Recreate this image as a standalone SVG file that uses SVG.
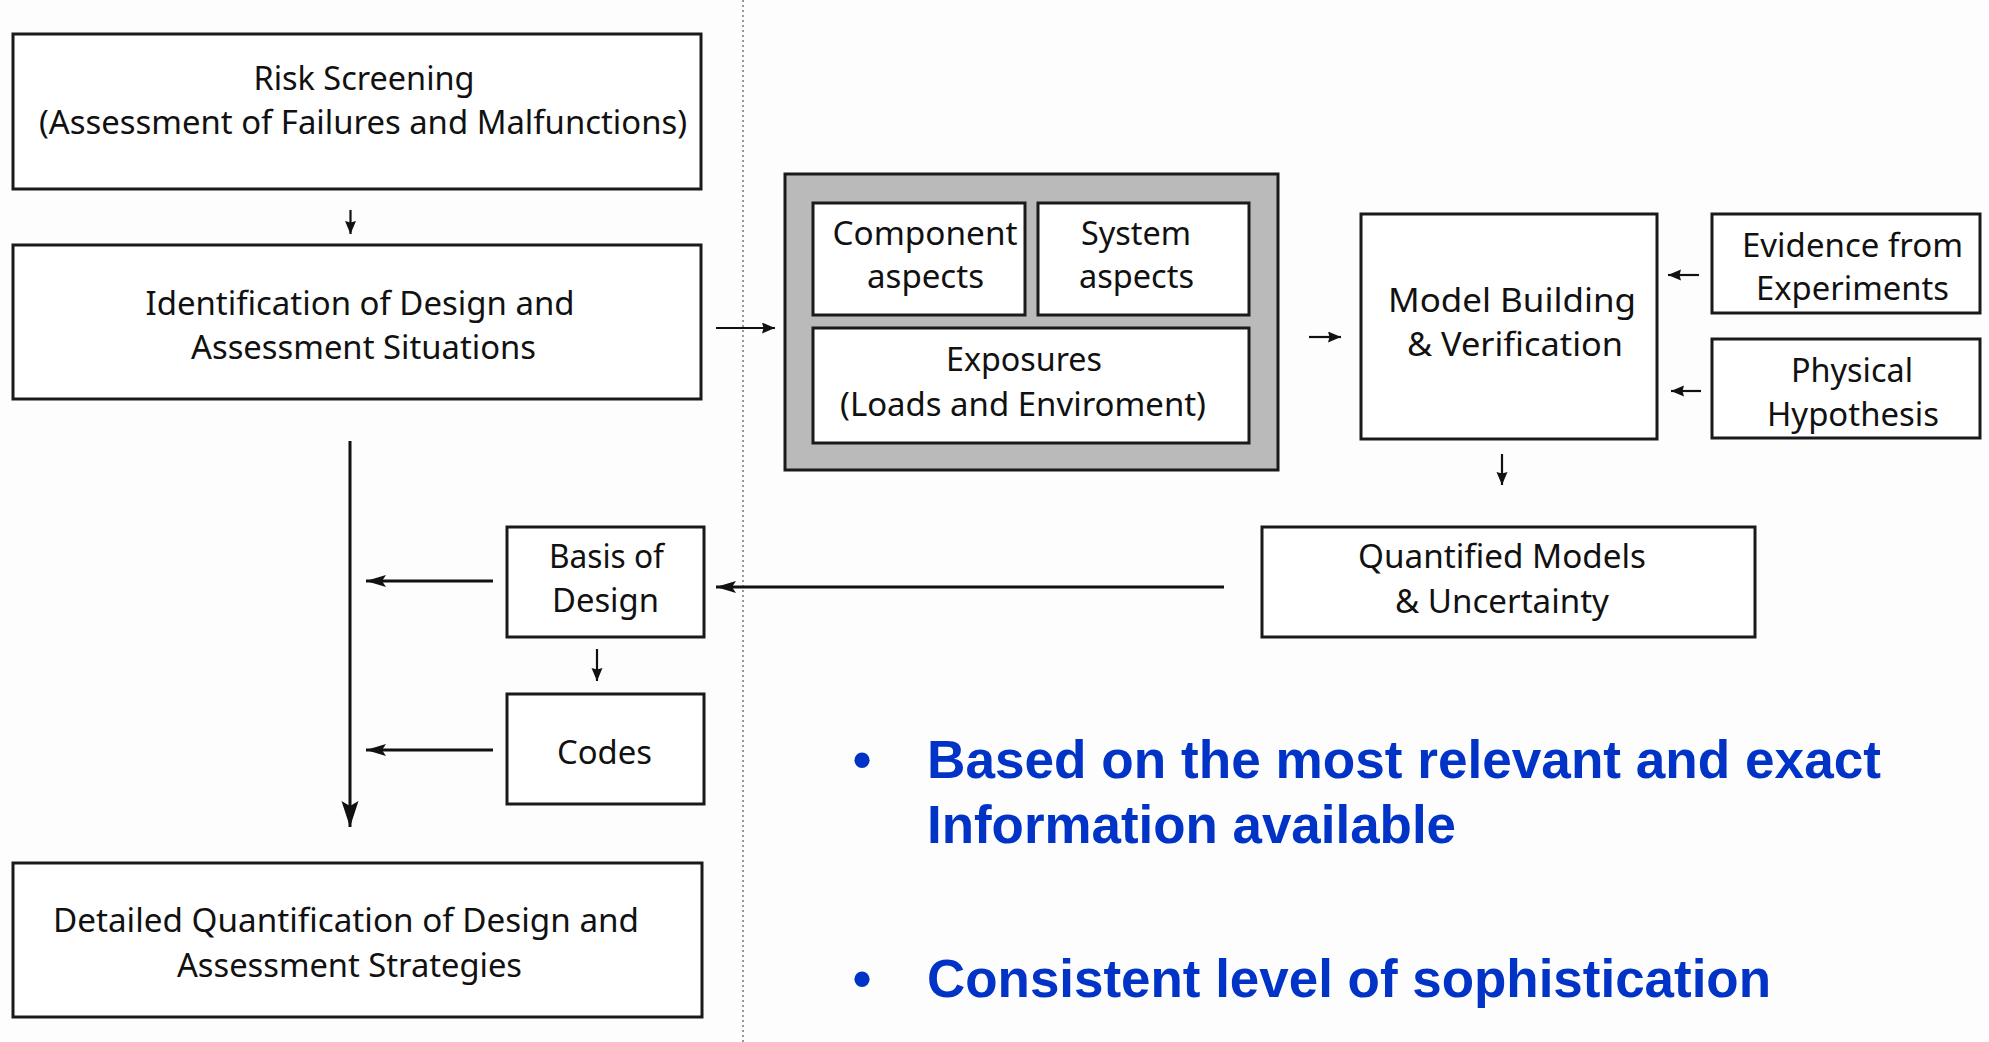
<svg xmlns="http://www.w3.org/2000/svg" width="1989" height="1042" viewBox="0 0 1989 1042">
  <defs>
    <marker id="headS" markerUnits="userSpaceOnUse" markerWidth="16" markerHeight="14" refX="13" refY="5.5" orient="auto">
      <path d="M0,0 L13,5.5 L0,11 L1.5,5.5 Z" fill="#111"/>
    </marker>
    <marker id="headM" markerUnits="userSpaceOnUse" markerWidth="22" markerHeight="14" refX="20" refY="6" orient="auto">
      <path d="M0,0 L20,6 L0,12 L4,6 Z" fill="#111"/>
    </marker>
    <marker id="headL" markerUnits="userSpaceOnUse" markerWidth="28" markerHeight="20" refX="26" refY="8.5" orient="auto">
      <path d="M0,0 L26,8.5 L0,17 L5,8.5 Z" fill="#111"/>
    </marker>
  </defs>
  <style>
    .box { fill: #ffffff; stroke: #1a1a1a; stroke-width: 3; }
    .frame { fill: #bababa; stroke: #1a1a1a; stroke-width: 3; }
    .lbl { font-family: "Noto Sans", "Open Sans", sans-serif; font-size: 33px; fill: #111; text-anchor: middle; }
    .wire { fill: none; stroke: #111; stroke-width: 2.2; }
    .wire3 { fill: none; stroke: #111; stroke-width: 3; }
    .bul { font-family: "Liberation Sans", Arial, sans-serif; font-weight: bold; font-size: 53px; fill: #0033c6; }
  </style>

  <rect x="0" y="0" width="1989" height="1042" fill="#fdfdfd"/>

  <!-- dotted divider -->
  <line x1="743" y1="0" x2="743" y2="1042" stroke="#777" stroke-width="1.5" stroke-dasharray="2 3"/>

  <g id="risk-screening">
    <rect class="box" x="13" y="34" width="688" height="155"/>
    <text class="lbl" x="364" y="90" textLength="221" lengthAdjust="spacingAndGlyphs">Risk Screening</text>
    <text class="lbl" x="363" y="134" textLength="648" lengthAdjust="spacingAndGlyphs">(Assessment of Failures and Malfunctions)</text>
  </g>

  <g id="identification">
    <rect class="box" x="13" y="245" width="688" height="154"/>
    <text class="lbl" x="360" y="315" textLength="429" lengthAdjust="spacingAndGlyphs">Identification of Design and</text>
    <text class="lbl" x="363.5" y="359" textLength="345" lengthAdjust="spacingAndGlyphs">Assessment Situations</text>
  </g>

  <g id="aspects-frame">
    <rect class="frame" x="785" y="174" width="493" height="296"/>
    <g id="component-aspects">
      <rect class="box" x="813" y="203" width="212" height="112"/>
      <text class="lbl" x="925" y="245" textLength="185" lengthAdjust="spacingAndGlyphs">Component</text>
      <text class="lbl" x="925.5" y="288" textLength="117" lengthAdjust="spacingAndGlyphs">aspects</text>
    </g>
    <g id="system-aspects">
      <rect class="box" x="1038" y="203" width="211" height="112"/>
      <text class="lbl" x="1136" y="245" textLength="110" lengthAdjust="spacingAndGlyphs">System</text>
      <text class="lbl" x="1136.5" y="288" textLength="115" lengthAdjust="spacingAndGlyphs">aspects</text>
    </g>
    <g id="exposures">
      <rect class="box" x="813" y="328" width="436" height="115"/>
      <text class="lbl" x="1024" y="371" textLength="156" lengthAdjust="spacingAndGlyphs">Exposures</text>
      <text class="lbl" x="1023" y="416" textLength="366" lengthAdjust="spacingAndGlyphs">(Loads and Enviroment)</text>
    </g>
  </g>

  <g id="model-building">
    <rect class="box" x="1361" y="214" width="296" height="225"/>
    <text class="lbl" x="1512" y="312" textLength="248" lengthAdjust="spacingAndGlyphs">Model Building</text>
    <text class="lbl" x="1515" y="356" textLength="216" lengthAdjust="spacingAndGlyphs">&amp; Verification</text>
  </g>

  <g id="evidence">
    <rect class="box" x="1712" y="214" width="268" height="99"/>
    <text class="lbl" x="1852.5" y="257" textLength="221" lengthAdjust="spacingAndGlyphs">Evidence from</text>
    <text class="lbl" x="1852.5" y="300" textLength="193" lengthAdjust="spacingAndGlyphs">Experiments</text>
  </g>

  <g id="physical-hypothesis">
    <rect class="box" x="1712" y="339" width="268" height="99"/>
    <text class="lbl" x="1852" y="382" textLength="122" lengthAdjust="spacingAndGlyphs">Physical</text>
    <text class="lbl" x="1853" y="426" textLength="172" lengthAdjust="spacingAndGlyphs">Hypothesis</text>
  </g>

  <g id="quantified-models">
    <rect class="box" x="1262" y="527" width="493" height="110"/>
    <text class="lbl" x="1502" y="568" textLength="288" lengthAdjust="spacingAndGlyphs">Quantified Models</text>
    <text class="lbl" x="1502" y="613" textLength="214" lengthAdjust="spacingAndGlyphs">&amp; Uncertainty</text>
  </g>

  <g id="basis-of-design">
    <rect class="box" x="507" y="527" width="197" height="110"/>
    <text class="lbl" x="606.5" y="568" textLength="115" lengthAdjust="spacingAndGlyphs">Basis of</text>
    <text class="lbl" x="605.5" y="612" textLength="107" lengthAdjust="spacingAndGlyphs">Design</text>
  </g>

  <g id="codes">
    <rect class="box" x="507" y="694" width="197" height="110"/>
    <text class="lbl" x="604.5" y="764" textLength="95" lengthAdjust="spacingAndGlyphs">Codes</text>
  </g>

  <g id="detailed-quantification">
    <rect class="box" x="13" y="863" width="689" height="154"/>
    <text class="lbl" x="346" y="932" textLength="586" lengthAdjust="spacingAndGlyphs">Detailed Quantification of Design and</text>
    <text class="lbl" x="349.5" y="977" textLength="345" lengthAdjust="spacingAndGlyphs">Assessment Strategies</text>
  </g>

  <g id="connectors">
    <path class="wire" d="M350.5,210 V234" marker-end="url(#headS)"/>
    <path class="wire" d="M716,328 H775" marker-end="url(#headS)"/>
    <path class="wire" d="M1309,337 H1341" marker-end="url(#headS)"/>
    <path class="wire" d="M1699,275 H1668" marker-end="url(#headS)"/>
    <path class="wire" d="M1701,391 H1671" marker-end="url(#headS)"/>
    <path class="wire" d="M1502,454 V485" marker-end="url(#headS)"/>
    <path class="wire" d="M597,649 V681" marker-end="url(#headS)"/>
    <path class="wire3" d="M1224,587 H716" marker-end="url(#headM)"/>
    <path class="wire3" d="M493,581 H366" marker-end="url(#headM)"/>
    <path class="wire3" d="M493,750 H366" marker-end="url(#headM)"/>
    <path class="wire3" d="M350,441 V827" marker-end="url(#headL)"/>
  </g>

  <g id="bullets">
    <text class="bul" x="862" y="778" text-anchor="middle">•</text>
    <text class="bul" x="927" y="778" textLength="954" lengthAdjust="spacingAndGlyphs">Based on the most relevant and exact</text>
    <text class="bul" x="927" y="843" textLength="529" lengthAdjust="spacingAndGlyphs">Information available</text>
    <text class="bul" x="862" y="997" text-anchor="middle">•</text>
    <text class="bul" x="927" y="997" textLength="844" lengthAdjust="spacingAndGlyphs">Consistent level of sophistication</text>
  </g>
</svg>
